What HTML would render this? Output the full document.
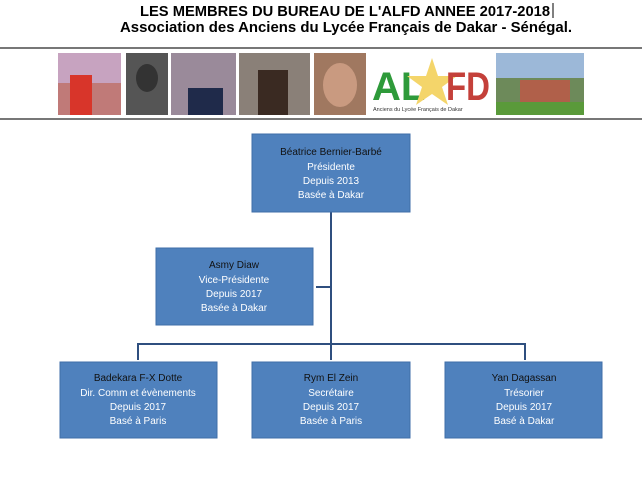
<!DOCTYPE html>
<html><head><meta charset="utf-8"><style>
body{margin:0;width:642px;height:480px;background:#fff;overflow:hidden;font-family:"Liberation Sans",Arial,sans-serif}
</style></head><body>
<svg width="642" height="480" xmlns="http://www.w3.org/2000/svg" font-family="Liberation Sans, Arial, sans-serif">
<text x="140" y="16" font-size="14.6" font-weight="bold" fill="#000" textLength="410" lengthAdjust="spacingAndGlyphs">LES MEMBRES DU BUREAU DE L'ALFD ANNEE 2017-2018</text>
<line x1="553" y1="3" x2="553" y2="18" stroke="#000" stroke-width="1"/>
<text x="120" y="32" font-size="14.8" font-weight="bold" fill="#000" textLength="452" lengthAdjust="spacingAndGlyphs">Association des Anciens du Lycée Français de Dakar - Sénégal.</text>
<rect x="0" y="47" width="642" height="2" fill="#777"/>
<rect x="0" y="118" width="642" height="2" fill="#777"/>
<rect x="58" y="53" width="63" height="62" fill="#c07a78"/>
<rect x="58" y="53" width="63" height="30" fill="#c7a3c0"/>
<rect x="70" y="75" width="22" height="40" fill="#d8352a"/>
<rect x="126" y="53" width="42" height="62" fill="#555"/>
<ellipse cx="147" cy="78" rx="11" ry="14" fill="#333"/>
<rect x="171" y="53" width="65" height="62" fill="#9a8a9a"/>
<rect x="188" y="88" width="35" height="27" fill="#1f2a4a"/>
<rect x="239" y="53" width="71" height="62" fill="#8a8078"/>
<rect x="258" y="70" width="30" height="45" fill="#3a2a22"/>
<rect x="314" y="53" width="52" height="62" fill="#a07860"/>
<ellipse cx="340" cy="85" rx="17" ry="22" fill="#c99a80"/>
<rect x="370" y="53" width="122" height="62" fill="#fff"/>
<text x="372" y="100" font-size="40" font-weight="bold" fill="#2e9a3a">AL</text>
<polygon points="432,58 438,76 457,76 442,87 448,105 432,94 416,105 422,87 407,76 426,76" fill="#f4d56a"/>
<text x="446" y="100" font-size="40" font-weight="bold" fill="#c4403a" textLength="44" lengthAdjust="spacingAndGlyphs">FD</text>
<text x="373" y="111" font-size="5.5" fill="#333">Anciens du Lycée Français de Dakar</text>
<rect x="496" y="53" width="88" height="62" fill="#6d8a5a"/>
<rect x="496" y="53" width="88" height="25" fill="#9cb8d8"/>
<rect x="520" y="80" width="50" height="22" fill="#b0604a"/>
<rect x="496" y="102" width="88" height="13" fill="#5a9a3a"/>
<g stroke="#2f4f7f" stroke-width="2" fill="none">
<line x1="331" y1="212" x2="331" y2="360"/>
<line x1="138" y1="344" x2="525" y2="344"/>
<line x1="138" y1="343" x2="138" y2="360"/>
<line x1="525" y1="343" x2="525" y2="360"/>
<line x1="316" y1="287" x2="331" y2="287"/>
</g>
<g fill="#4f81bd" stroke="#3f6ea8" stroke-width="1">
<rect x="252" y="134" width="158" height="78"/>
<rect x="156" y="248" width="157" height="77"/>
<rect x="60" y="362" width="157" height="76"/>
<rect x="252" y="362" width="158" height="76"/>
<rect x="445" y="362" width="157" height="76"/>
</g>
<g font-size="10" text-anchor="middle" fill="#fff">
<text x="331" y="155" fill="#111">Béatrice Bernier-Barbé</text>
<text x="331" y="170">Présidente</text>
<text x="331" y="184">Depuis 2013</text>
<text x="331" y="198">Basée à Dakar</text>
<text x="234" y="268" fill="#111">Asmy Diaw</text>
<text x="234" y="283">Vice-Présidente</text>
<text x="234" y="297">Depuis 2017</text>
<text x="234" y="311">Basée à Dakar</text>
<text x="138" y="381" fill="#111">Badekara F-X Dotte</text>
<text x="138" y="396">Dir. Comm et évènements</text>
<text x="138" y="410">Depuis 2017</text>
<text x="138" y="424">Basé à Paris</text>
<text x="331" y="381" fill="#111">Rym El Zein</text>
<text x="331" y="396">Secrétaire</text>
<text x="331" y="410">Depuis 2017</text>
<text x="331" y="424">Basée à Paris</text>
<text x="524" y="381" fill="#111">Yan Dagassan</text>
<text x="524" y="396">Trésorier</text>
<text x="524" y="410">Depuis 2017</text>
<text x="524" y="424">Basé à Dakar</text>
</g>
</svg>
</body></html>
